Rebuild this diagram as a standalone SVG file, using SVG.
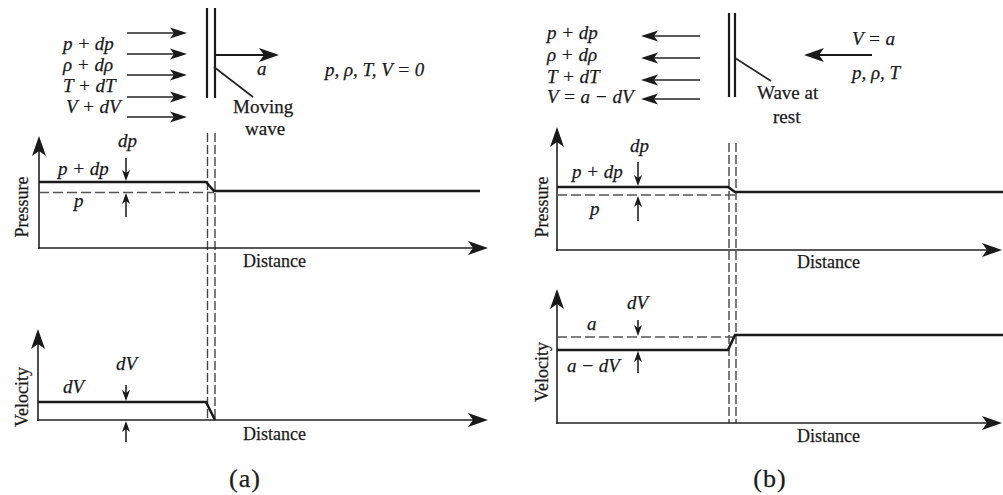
<svg xmlns="http://www.w3.org/2000/svg" xmlns:xlink="http://www.w3.org/1999/xlink" width="1003" height="495" viewBox="0 0 1003 495">
<style>
  text { font-family: "Liberation Serif", "Times New Roman", serif; fill: #1a1a1a; stroke: #1a1a1a; stroke-width: 0.25; }
  .m { font-style: italic; font-size: 19px; }
  .r { font-size: 18px; }
  .lb { font-size: 19px; }
  .cap { font-size: 26px; letter-spacing: 1px; }
  .ln { stroke: #222; stroke-width: 1.6; fill: none; }
  .th { stroke: #1a1a1a; stroke-width: 2.6; fill: none; }
  .wv { stroke: #1a1a1a; stroke-width: 2.2; fill: none; }
  .dh { stroke: #555; stroke-width: 1.3; stroke-dasharray: 10 4; fill: none; }
  .dv { stroke: #444; stroke-width: 1.4; stroke-dasharray: 9 3; fill: none; }
  .hd { fill: #1a1a1a; stroke: none; }
</style>
<defs>
  <path id="big" class="hd" d="M0,0 L-20,-7 L-15,0 L-20,7 Z"/>
  <path id="med" class="hd" d="M0,0 L-17,-5.5 L-13,0 L-17,5.5 Z"/>
  <path id="sm" class="hd" d="M0,0 L-11,-4 L-8,0 L-11,4 Z"/>
</defs>
<rect width="1003" height="495" fill="#fff"/>

<!-- ===== Panel (a) ===== -->
<g id="a-top">
  <text class="m" x="63" y="50">p + dp</text>
  <text class="m" x="63" y="71">ρ + dρ</text>
  <text class="m" x="63" y="92">T + dT</text>
  <text class="m" x="66" y="113">V + dV</text>
  <text class="m" x="257" y="75">a</text>
  <text class="lb" x="233" y="113">Moving</text>
  <text class="lb" x="245" y="135">wave</text>
  <text class="m" x="325" y="76">p, ρ, T, V = 0</text>
</g>
<g id="a-wave">
  <line class="wv" x1="207" y1="8" x2="207" y2="98"/>
  <line class="wv" x1="215" y1="8" x2="215" y2="98"/>
</g>
<g id="a-pressure">
  <text class="r" transform="translate(28,207) rotate(-90)" text-anchor="middle">Pressure</text>
  <text class="r" x="243" y="267">Distance</text>
  <text class="m" x="58" y="175">p + dp</text>
  <text class="m" x="118" y="147">dp</text>
  <text class="m" x="74" y="207">p</text>
</g>
<g id="a-velocity">
  <text class="r" transform="translate(28,397) rotate(-90)" text-anchor="middle">Velocity</text>
  <text class="r" x="243" y="440">Distance</text>
  <text class="m" x="63" y="393">dV</text>
  <text class="m" x="116" y="370">dV</text>
  <text class="cap" x="245" y="487" text-anchor="middle">(a)</text>
</g>

<!-- ===== Panel (b) ===== -->
<g id="b-top">
  <text class="m" x="547" y="39">p + dp</text>
  <text class="m" x="547" y="61">ρ + dρ</text>
  <text class="m" x="547" y="83">T + dT</text>
  <text class="m" x="547" y="103">V = a − dV</text>
  <text class="lb" x="757" y="99">Wave at</text>
  <text class="lb" x="773" y="123">rest</text>
  <text class="m" x="852" y="45">V = a</text>
  <text class="m" x="852" y="79">p, ρ, T</text>
</g>
<g id="b-wave">
  <line class="wv" x1="729" y1="13" x2="729" y2="97"/>
  <line class="wv" x1="735" y1="13" x2="735" y2="97"/>
</g>
<g id="b-pressure">
  <text class="r" transform="translate(548,207) rotate(-90)" text-anchor="middle">Pressure</text>
  <text class="r" x="797" y="268">Distance</text>
  <text class="m" x="572" y="178">p + dp</text>
  <text class="m" x="630" y="152">dp</text>
  <text class="m" x="590" y="215">p</text>
</g>
<g id="b-velocity">
  <text class="r" transform="translate(548,372) rotate(-90)" text-anchor="middle">Velocity</text>
  <text class="r" x="797" y="442">Distance</text>
  <text class="m" x="587" y="330">a</text>
  <text class="m" x="627" y="309">dV</text>
  <text class="m" x="567" y="372">a − dV</text>
  <text class="cap" x="770" y="487" text-anchor="middle">(b)</text>
</g>

<!-- ===== Connectors / curves ===== -->
<g id="connectors">
  <!-- (a) flow arrows -->
  <line class="ln" x1="127" y1="33" x2="180" y2="33"/>
  <line class="ln" x1="127" y1="54" x2="180" y2="54"/>
  <line class="ln" x1="127" y1="75" x2="180" y2="75"/>
  <line class="ln" x1="127" y1="97" x2="180" y2="97"/>
  <line class="ln" x1="127" y1="117" x2="180" y2="117"/>
  <use xlink:href="#med" href="#med" transform="translate(187,33)"/>
  <use xlink:href="#med" href="#med" transform="translate(187,54)"/>
  <use xlink:href="#med" href="#med" transform="translate(187,75)"/>
  <use xlink:href="#med" href="#med" transform="translate(187,97)"/>
  <use xlink:href="#med" href="#med" transform="translate(187,117)"/>
  <line class="wv" x1="215" y1="55" x2="270" y2="55"/>
  <use xlink:href="#big" href="#big" transform="translate(279,55)"/>
  <line class="ln" x1="214" y1="67" x2="253" y2="97" stroke-width="1.2"/>

  <!-- (a) dashed wave position -->
  <line class="dv" x1="207.5" y1="133" x2="207.5" y2="420"/>
  <line class="dv" x1="215" y1="133" x2="215" y2="420"/>

  <!-- (a) pressure plot -->
  <line class="ln" x1="39" y1="249" x2="39" y2="145"/>
  <use xlink:href="#big" href="#big" transform="translate(39,136) rotate(-90)"/>
  <line class="ln" x1="38" y1="248" x2="478" y2="248"/>
  <use xlink:href="#big" href="#big" transform="translate(488,248)"/>
  <line class="dh" x1="39" y1="192.5" x2="214" y2="192.5"/>
  <polyline class="th" points="39,182 206,182 214,191 480,191"/>
  <line class="ln" x1="126" y1="158" x2="126" y2="174"/>
  <use xlink:href="#sm" href="#sm" transform="translate(126,181) rotate(90)"/>
  <line class="ln" x1="126" y1="217" x2="126" y2="200"/>
  <use xlink:href="#sm" href="#sm" transform="translate(126,193) rotate(-90)"/>

  <!-- (a) velocity plot -->
  <line class="ln" x1="38" y1="421" x2="38" y2="338"/>
  <use xlink:href="#big" href="#big" transform="translate(38,329) rotate(-90)"/>
  <line class="ln" x1="37" y1="420" x2="478" y2="420"/>
  <use xlink:href="#big" href="#big" transform="translate(488,420)"/>
  <polyline class="th" points="38,402 206,402 215,420"/>
  <line class="ln" x1="126" y1="385" x2="126" y2="394"/>
  <use xlink:href="#sm" href="#sm" transform="translate(126,401) rotate(90)"/>
  <line class="ln" x1="126" y1="442" x2="126" y2="428"/>
  <use xlink:href="#sm" href="#sm" transform="translate(126,421) rotate(-90)"/>

  <!-- (b) flow arrows -->
  <line class="ln" x1="700" y1="36" x2="648" y2="36"/>
  <line class="ln" x1="700" y1="58" x2="648" y2="58"/>
  <line class="ln" x1="700" y1="80" x2="648" y2="80"/>
  <line class="ln" x1="700" y1="99" x2="648" y2="99"/>
  <use xlink:href="#med" href="#med" transform="translate(641,36) rotate(180)"/>
  <use xlink:href="#med" href="#med" transform="translate(641,58) rotate(180)"/>
  <use xlink:href="#med" href="#med" transform="translate(641,80) rotate(180)"/>
  <use xlink:href="#med" href="#med" transform="translate(641,99) rotate(180)"/>
  <line class="wv" x1="872" y1="55" x2="813" y2="55"/>
  <use xlink:href="#big" href="#big" transform="translate(804,55) rotate(180)"/>
  <line class="ln" x1="735" y1="58" x2="771" y2="81" stroke-width="1.2"/>

  <!-- (b) dashed wave position -->
  <line class="dv" x1="729" y1="143" x2="729" y2="423"/>
  <line class="dv" x1="736" y1="143" x2="736" y2="423"/>

  <!-- (b) pressure plot -->
  <line class="ln" x1="557" y1="251" x2="557" y2="136"/>
  <use xlink:href="#big" href="#big" transform="translate(557,127) rotate(-90)"/>
  <line class="ln" x1="556" y1="250" x2="992" y2="250"/>
  <use xlink:href="#big" href="#big" transform="translate(1002,250)"/>
  <line class="dh" x1="557" y1="195" x2="735" y2="195"/>
  <polyline class="th" points="557,187 728,187 735,192 1003,192"/>
  <line class="ln" x1="638" y1="162" x2="638" y2="179"/>
  <use xlink:href="#sm" href="#sm" transform="translate(638,186) rotate(90)"/>
  <line class="ln" x1="638" y1="221" x2="638" y2="203"/>
  <use xlink:href="#sm" href="#sm" transform="translate(638,196) rotate(-90)"/>

  <!-- (b) velocity plot -->
  <line class="ln" x1="557" y1="424" x2="557" y2="298"/>
  <use xlink:href="#big" href="#big" transform="translate(557,289) rotate(-90)"/>
  <line class="ln" x1="556" y1="423" x2="992" y2="423"/>
  <use xlink:href="#big" href="#big" transform="translate(1002,423)"/>
  <line class="dh" x1="557" y1="337" x2="735" y2="337"/>
  <polyline class="th" points="557,350 728,350 735,335 1003,335"/>
  <line class="ln" x1="638" y1="320" x2="638" y2="329"/>
  <use xlink:href="#sm" href="#sm" transform="translate(638,336) rotate(90)"/>
  <line class="ln" x1="638" y1="373" x2="638" y2="358"/>
  <use xlink:href="#sm" href="#sm" transform="translate(638,351) rotate(-90)"/>
</g>
</svg>
